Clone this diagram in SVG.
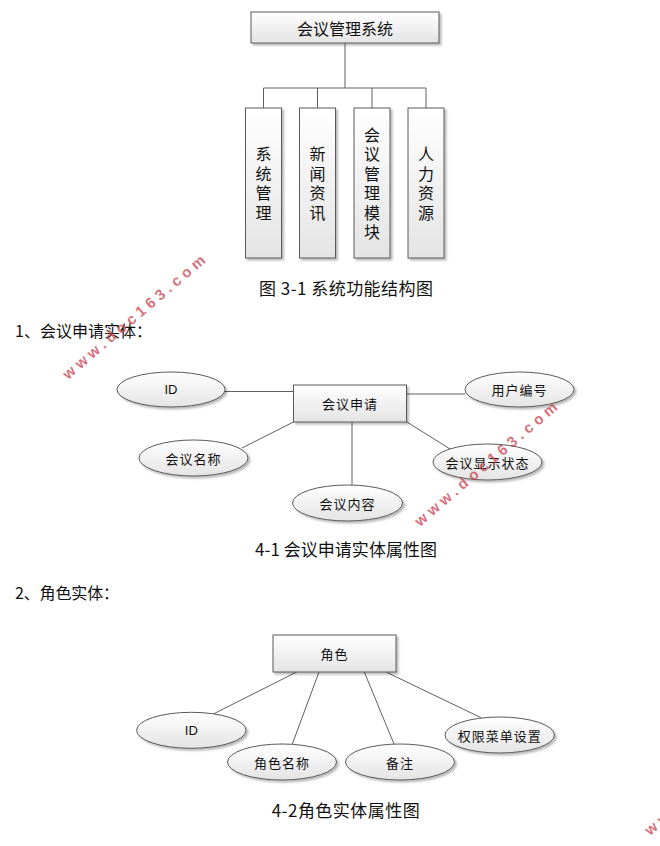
<svg xmlns="http://www.w3.org/2000/svg" width="660" height="846" viewBox="0 0 660 846">
<defs>
<linearGradient id="g" x1="0" y1="0" x2="0" y2="1">
<stop offset="0" stop-color="#ffffff"/>
<stop offset="1" stop-color="#e4e4e4"/>
</linearGradient>
<filter id="sh" x="-20%" y="-20%" width="150%" height="160%">
<feDropShadow dx="2" dy="2" stdDeviation="1.2" flood-color="#000" flood-opacity="0.28"/>
</filter>
</defs>
<style>
.box{fill:url(#g);stroke:#5a5a5a;stroke-width:1;filter:url(#sh)}
.ell{fill:url(#g);stroke:#5a5a5a;stroke-width:1;filter:url(#sh)}
.lbl{font-family:"Noto Sans CJK SC","Liberation Sans",sans-serif;font-size:13px;letter-spacing:1px;fill:#111;text-anchor:middle;dominant-baseline:central}
.id{font-family:"Liberation Sans",Arial,sans-serif;font-size:13px;fill:#111;text-anchor:middle;dominant-baseline:central}
.big{font-family:"Noto Sans CJK SC","Liberation Sans",sans-serif;font-size:16px;fill:#111;text-anchor:middle;dominant-baseline:central}
.vert{font-family:"Noto Sans CJK SC","Liberation Sans",sans-serif;font-size:16px;fill:#111;writing-mode:vertical-rl;letter-spacing:3.5px;text-anchor:start}
.cap{font-family:"Noto Sans CJK SC","Liberation Serif",serif;font-size:17px;fill:#111;dominant-baseline:central}
.sec{font-family:"Noto Sans CJK SC","Liberation Serif",serif;font-size:16px;fill:#111;dominant-baseline:central}
.wm{font-family:"Liberation Sans",Arial,sans-serif;font-size:15px;font-weight:bold;fill:#c9424f;fill-opacity:0.75}
.conn{stroke:#606060;stroke-width:1;fill:none}
</style>

<g id="connectors">
<path class="conn" d="M345,43 V88 M263.5,88 H426 M263.5,88 V108 M317.5,88 V108 M372,88 V108 M426,88 V108"/>
<path class="conn" d="M225,391.5 H293.5 M407,394 H465 M293.5,422 L242,448 M407,422 L450,449 M352,422 V485"/>
<path class="conn" d="M296.7,672 L213.3,714 M319,672 L292.3,744 M364.3,672 L394,744 M386,672 L481,717.7"/>
</g>

<g id="n-root">
<rect class="box" x="251" y="12" width="188" height="31"/>
<text class="big" x="345" y="28">会议管理系统</text>
</g>
<g id="n-sys">
<rect class="box" x="245.5" y="108" width="36" height="150"/>
<text class="vert" x="263.5" y="146">系统管理</text>
</g>
<g id="n-news">
<rect class="box" x="299.5" y="108" width="36" height="150"/>
<text class="vert" x="317.5" y="146">新闻资讯</text>
</g>
<g id="n-meet">
<rect class="box" x="354" y="108" width="36" height="150"/>
<text class="vert" x="372" y="126.5">会议管理模块</text>
</g>
<g id="n-hr">
<rect class="box" x="408" y="108" width="36" height="150"/>
<text class="vert" x="426" y="146">人力资源</text>
</g>
<text class="cap" x="259" y="287" textLength="174" lengthAdjust="spacing">图 3-1 系统功能结构图</text>

<text class="sec" x="15" y="330" textLength="137" lengthAdjust="spacing">1、会议申请实体：</text>

<g id="e-apply">
<rect class="box" x="293.5" y="385" width="113" height="37"/>
<text class="lbl" x="350" y="403.5">会议申请</text>
</g>
<g id="a-id1">
<ellipse class="ell" cx="171" cy="389.5" rx="54" ry="17.5"/>
<text class="id" x="171" y="389.5">ID</text>
</g>
<g id="a-user">
<ellipse class="ell" cx="519.5" cy="389.5" rx="54.5" ry="17.5"/>
<text class="lbl" x="519.5" y="389.5">用户编号</text>
</g>
<g id="a-name">
<ellipse class="ell" cx="193.5" cy="458" rx="54.5" ry="18"/>
<text class="lbl" x="193.5" y="458">会议名称</text>
</g>
<g id="a-state">
<ellipse class="ell" cx="487.5" cy="462" rx="54.5" ry="18"/>
<text class="lbl" x="487.5" y="462">会议显示状态</text>
</g>
<g id="a-content">
<ellipse class="ell" cx="347.5" cy="503" rx="55" ry="18"/>
<text class="lbl" x="347.5" y="503">会议内容</text>
</g>
<text class="cap" x="255" y="548" textLength="182" lengthAdjust="spacing">4-1 会议申请实体属性图</text>

<text class="sec" x="15" y="592" textLength="104" lengthAdjust="spacing">2、角色实体：</text>

<g id="e-role">
<rect class="box" x="273" y="635" width="123" height="37"/>
<text class="lbl" x="334.5" y="653.5">角色</text>
</g>
<g id="r-id">
<ellipse class="ell" cx="191.3" cy="730.3" rx="54.7" ry="18"/>
<text class="id" x="191.3" y="730.3">ID</text>
</g>
<g id="r-name">
<ellipse class="ell" cx="282" cy="762" rx="54.5" ry="18"/>
<text class="lbl" x="282" y="762">角色名称</text>
</g>
<g id="r-note">
<ellipse class="ell" cx="400" cy="762" rx="54.5" ry="18"/>
<text class="lbl" x="400" y="762">备注</text>
</g>
<g id="r-perm">
<ellipse class="ell" cx="499.7" cy="735" rx="54.7" ry="18"/>
<text class="lbl" x="499.7" y="735">权限菜单设置</text>
</g>
<text class="cap" x="271.7" y="809.5" textLength="148" lengthAdjust="spacing">4-2角色实体属性图</text>

<text class="wm" x="68" y="380" transform="rotate(-40.5 68 380)" textLength="182" lengthAdjust="spacing">www.doc163.com</text>
<text class="wm" x="420" y="527" transform="rotate(-40.5 420 527)" textLength="182" lengthAdjust="spacing">www.doc163.com</text>
<text class="wm" x="650" y="836" transform="rotate(-40.5 650 836)" textLength="182" lengthAdjust="spacing">www.doc163.com</text>
</svg>
